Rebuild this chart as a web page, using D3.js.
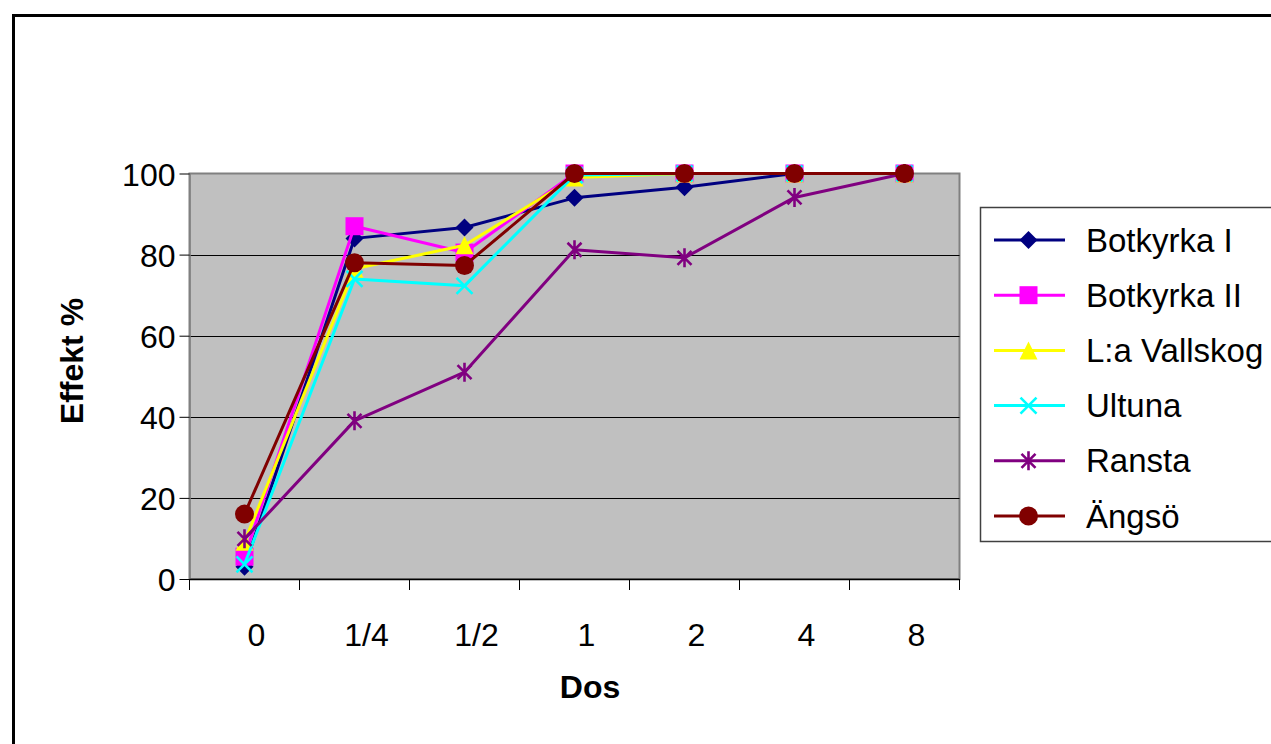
<!DOCTYPE html>
<html>
<head>
<meta charset="utf-8">
<script src="https://cdn.jsdelivr.net/npm/d3@7"></script>
<style>
  html, body { margin: 0; padding: 0; background: #ffffff; }
  svg { display: block; font-family: "Liberation Sans", Arial, sans-serif; }
</style>
</head>
<body>
<svg id="chart" width="1271" height="744"></svg>
<script>
// Dose categories on the x axis
const doses = ["0", "1/4", "1/2", "1", "2", "4", "8"];
const yTicks = [0, 20, 40, 60, 80, 100];

// Effect (%) per population, one value per dose
const botkyrkaI  = [3, 84, 86.7, 94, 96.6, 100, 100];
const botkyrkaII = [5.5, 87, 80.5, 100, 100, 100, 100];
const vallskog   = [9.2, 76.5, 82.3, 99, 100, 100, 100];
const ultuna     = [3.6, 74, 72.3, 99.6, 100, 100, 100];
const ransta     = [9.9, 39, 51, 81.2, 79.2, 94.1, 100];
const angso      = [16, 78, 77.3, 100, 100, 100, 100];

const seriesNames  = ["Botkyrka I", "Botkyrka II", "L:a Vallskog", "Ultuna", "Ransta", "Ängsö"];
const seriesValues = [botkyrkaI, botkyrkaII, vallskog, ultuna, ransta, angso];
const seriesColors = ["#000080", "#ff00ff", "#ffff00", "#00ffff", "#800080", "#800000"];
const seriesMarks  = ["diamond", "square", "triangle", "cross", "star", "circle"];

const svg = d3.select("#chart");

// outer chart frame (runs off the right and bottom edges)
svg.append("rect")
  .attr("x", 13.5).attr("y", 15.5)
  .attr("width", 1400).attr("height", 900)
  .attr("fill", "#ffffff").attr("stroke", "#000").attr("stroke-width", 3);

const plot = { left: 189.5, right: 959.5, top: 173.5, bottom: 579 };

const x = d3.scaleBand().domain(doses).range([plot.left, plot.right]);
const y = d3.scaleLinear().domain([0, 100]).range([plot.bottom, plot.top]);

// plot area background
svg.append("rect")
  .attr("x", plot.left).attr("y", plot.top)
  .attr("width", plot.right - plot.left).attr("height", plot.bottom - plot.top)
  .attr("fill", "#c0c0c0").attr("stroke", "#808080").attr("stroke-width", 2);

// horizontal gridlines
svg.append("g")
  .selectAll("line")
  .data(yTicks.filter(t => t > 0 && t < 100))
  .join("line")
  .attr("x1", plot.left).attr("x2", plot.right)
  .attr("y1", d => Math.round(y(d)) + 0.5).attr("y2", d => Math.round(y(d)) + 0.5)
  .attr("stroke", "#000").attr("stroke-width", 1);

// y axis
const yAxis = svg.append("g")
  .attr("transform", `translate(${plot.left},0)`)
  .call(d3.axisLeft(y).tickValues(yTicks).tickSize(10).tickSizeOuter(0).tickPadding(4));
yAxis.select(".domain").attr("stroke", "#808080").attr("stroke-width", 1.5);
yAxis.selectAll(".tick line").attr("stroke", "#000");
yAxis.selectAll(".tick text")
  .attr("fill", "#000").attr("font-size", 32)
  .attr("font-family", "Liberation Sans, Arial, sans-serif")
  .attr("dy", "0.36em");

// x axis with ticks on category boundaries
const xAxis = svg.append("g")
  .attr("transform", `translate(0,${plot.bottom})`);
xAxis.append("line")
  .attr("x1", plot.left).attr("x2", plot.right)
  .attr("y1", 0.5).attr("y2", 0.5)
  .attr("stroke", "#000").attr("stroke-width", 1.5);
const boundaries = doses.map(d => x(d)).concat([x(doses[doses.length - 1]) + x.bandwidth()]);
xAxis.selectAll("line.tick")
  .data(boundaries)
  .join("line")
  .attr("class", "tick")
  .attr("x1", d => d).attr("x2", d => d)
  .attr("y1", 0).attr("y2", 11)
  .attr("stroke", "#000").attr("stroke-width", 1);
xAxis.selectAll("text")
  .data(doses)
  .join("text")
  .attr("x", d => x(d) + x.bandwidth() / 2 + 12)
  .attr("y", 67)
  .attr("text-anchor", "middle")
  .attr("font-size", 32)
  .attr("fill", "#000")
  .text(d => d);

// axis titles
svg.append("text")
  .attr("x", 590).attr("y", 698)
  .attr("text-anchor", "middle")
  .attr("font-size", 32).attr("font-weight", "bold")
  .text("Dos");
svg.append("text")
  .attr("transform", "translate(83,361) rotate(-90)")
  .attr("text-anchor", "middle")
  .attr("font-size", 32).attr("font-weight", "bold")
  .text("Effekt %");

// marker shapes
function drawMarker(g, type, color) {
  switch (type) {
    case "diamond":
      g.append("path").attr("d", "M0,-9L9,0L0,9L-9,0Z").attr("fill", color);
      break;
    case "square":
      g.append("rect").attr("x", -9).attr("y", -9).attr("width", 18).attr("height", 18).attr("fill", color);
      break;
    case "triangle":
      g.append("path").attr("d", "M0,-9L9,9L-9,9Z").attr("fill", color);
      break;
    case "cross":
      g.append("path").attr("d", "M-8,-8L8,8M-8,8L8,-8")
        .attr("stroke", color).attr("stroke-width", 2.6).attr("fill", "none");
      break;
    case "star":
      g.append("path").attr("d", "M-7,-7L7,7M-7,7L7,-7M0,-9.5L0,9.5")
        .attr("stroke", color).attr("stroke-width", 2.6).attr("fill", "none");
      break;
    case "circle":
      g.append("circle").attr("r", 9.5).attr("fill", color);
      break;
  }
}

const line = d3.line()
  .x((d, i) => x(doses[i]) + x.bandwidth() / 2)
  .y(d => y(d));

// series: line first, then its markers, in series order
seriesValues.forEach((vals, si) => {
  const g = svg.append("g");
  g.append("path")
    .datum(vals)
    .attr("d", line)
    .attr("fill", "none")
    .attr("stroke", seriesColors[si])
    .attr("stroke-width", 3)
    .attr("stroke-linejoin", "round");
  vals.forEach((v, i) => {
    const m = g.append("g")
      .attr("transform", `translate(${x(doses[i]) + x.bandwidth() / 2},${y(v)})`);
    drawMarker(m, seriesMarks[si], seriesColors[si]);
  });
});

// legend
const legend = svg.append("g");
legend.append("rect")
  .attr("x", 980.5).attr("y", 207.5)
  .attr("width", 400).attr("height", 334)
  .attr("fill", "#fff").attr("stroke", "#404040").attr("stroke-width", 1.5);
seriesNames.forEach((name, i) => {
  const cy = 240 + i * 55.2;
  legend.append("line")
    .attr("x1", 994).attr("x2", 1065)
    .attr("y1", cy).attr("y2", cy)
    .attr("stroke", seriesColors[i]).attr("stroke-width", 3);
  const m = legend.append("g").attr("transform", `translate(1028.5,${cy})`);
  drawMarker(m, seriesMarks[i], seriesColors[i]);
  legend.append("text")
    .attr("x", 1086).attr("y", cy + 11.5)
    .attr("font-size", 33)
    .attr("fill", "#000")
    .text(name);
});
</script>
</body>
</html>
